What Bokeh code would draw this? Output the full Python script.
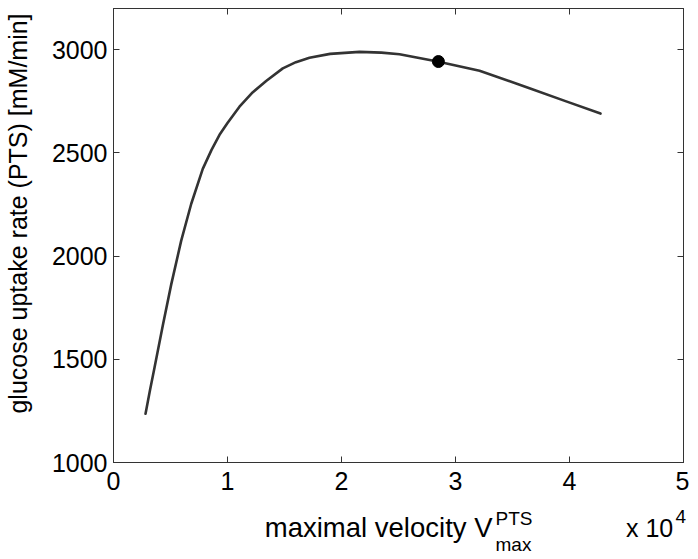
import math
from bokeh.plotting import figure
from bokeh.layouts import row, column
from bokeh.models import LinearAxis, FixedTicker, Range1d, CustomJSTickFormatter
from bokeh.core.properties import value
from bokeh.embed import file_html
from bokeh.resources import INLINE

# maximal velocity V_max^PTS (in units of 1e4) and glucose uptake rate (PTS) [mM/min]
vmax = [0.281, 0.320, 0.360, 0.432, 0.506, 0.594, 0.682, 0.783, 0.860, 0.930, 1.000,
        1.105, 1.220, 1.339, 1.485, 1.600, 1.719, 1.900, 2.158, 2.350, 2.509,
        2.842, 3.211, 3.649, 3.971, 4.272]
uptake = [1236, 1350, 1460, 1663, 1862, 2075, 2254, 2423, 2515, 2588, 2645,
          2724, 2793, 2849, 2910, 2940, 2961, 2980, 2990, 2986, 2978,
          2943, 2898, 2814, 2750, 2691]

# marked reference point
ref_vmax = [2.85]
ref_uptake = [2943]

x_ticks = [0, 1, 2, 3, 4, 5]
y_ticks = [1000, 1500, 2000, 2500, 3000]
x_range = (0, 5)
y_range = (1000, 3200)

y_label = "glucose uptake rate (PTS) [mM/min]"
x_label_main = "maximal velocity V"
x_label_sup = "PTS"
x_label_sub = "max"
x_mult = "x 10"
x_mult_exp = "4"

FONT = "Liberation Sans"
AX = "#333333"

# ---- layout sizes (px)
YLAB_W = 40
TOTAL_H = 556
MAIN_W = 73 + 570 + 6
MAIN_H = 8 + 454 + 45
XLAB_H = TOTAL_H - MAIN_H
BASE_SHIFT = 0.33  # em fraction to compensate baseline placement

p = figure(frame_width=570, frame_height=454, output_backend="svg",
           toolbar_location=None, x_range=Range1d(*x_range), y_range=Range1d(*y_range),
           min_border_left=73, min_border_right=6, min_border_top=8, min_border_bottom=45,
           title=None)
p.frame_align = False
p.background_fill_color = "white"
p.border_fill_color = "white"
p.outline_line_color = AX
p.outline_line_width = 1
p.xgrid.visible = False
p.ygrid.visible = False

def style_axis(ax, ticks, show_labels):
    ax.ticker = FixedTicker(ticks=ticks)
    ax.minor_tick_line_color = None
    ax.major_tick_in = 6
    ax.major_tick_out = 0
    ax.major_tick_line_color = AX
    ax.axis_line_color = AX
    ax.major_label_text_font = FONT
    ax.major_label_text_color = "black"
    if show_labels:
        ax.major_label_text_font_size = "25px"
    else:
        ax.major_label_text_font_size = "0px"
        ax.major_label_standoff = 0
        ax.formatter = CustomJSTickFormatter(code="return ''")

style_axis(p.xaxis[0], x_ticks, True)
style_axis(p.yaxis[0], y_ticks, True)
p.xaxis[0].major_label_standoff = 9
p.yaxis[0].major_label_standoff = 6

top = LinearAxis()
right = LinearAxis()
style_axis(top, x_ticks, False)
style_axis(right, y_ticks, False)
p.add_layout(top, "above")
p.add_layout(right, "right")

p.line(vmax, uptake, line_color="#333333", line_width=2.6, line_join="round", line_cap="round")
p.scatter(ref_vmax, ref_uptake, size=12, fill_color="black", line_color="black")

def text_fig(w, h, x0):
    f = figure(width=w, height=h, output_backend="svg", toolbar_location=None,
               x_range=Range1d(x0, x0 + w), y_range=Range1d(0, h), title=None,
               min_border_left=0, min_border_right=0, min_border_top=0, min_border_bottom=0,
               x_axis_type=None, y_axis_type=None)
    f.frame_align = False
    f.outline_line_color = None
    f.xgrid.visible = False
    f.ygrid.visible = False
    f.background_fill_color = "white"
    f.border_fill_color = "white"
    return f

# y label panel (page x 0..40)
yl = text_fig(YLAB_W, TOTAL_H, 0)
yl.text(x=[25.5 - BASE_SHIFT * 25], y=[TOTAL_H - 213], text=[y_label], angle=math.pi / 2,
        text_align="center", text_baseline="alphabetic", text_font=value(FONT),
        text_font_size="25px", text_color="black")

# x label panel (page x 40..689, y MAIN_H..TOTAL_H); y measured up from page bottom
xl = text_fig(MAIN_W, XLAB_H, YLAB_W)
def T(x, page_y, s, size, align):
    xl.text(x=[x], y=[TOTAL_H - (page_y - BASE_SHIFT * size)], text=[s], text_align=align,
            text_baseline="alphabetic", text_font=value(FONT),
            text_font_size=f"{size}px", text_color="black")

T(492, 536.5, x_label_main, 27.5, "right")
T(495, 524.3, x_label_sup, 19, "left")
T(495, 550, x_label_sub, 19, "left")
T(672.7, 535.7, x_mult, 25, "right")
T(675, 522, x_mult_exp, 19, "left")

layout = row(yl, column(p, xl, spacing=0), spacing=0)
open("out.html", "w").write(file_html(layout, INLINE))
